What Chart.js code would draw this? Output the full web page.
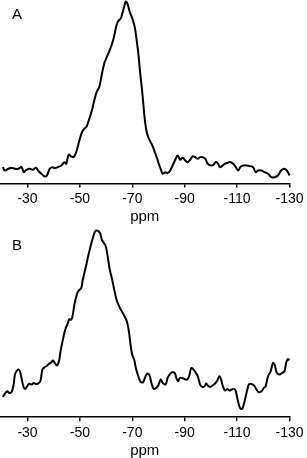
<!DOCTYPE html>
<html>
<head>
<meta charset="utf-8">
<script src="https://cdn.jsdelivr.net/npm/chart.js@4"></script>
<style>
  html, body { margin: 0; padding: 0; background: #fff; }
  .panel { position: relative; width: 307px; height: 229px; }
  .lbl { position: absolute; left: 12px; font-family: "Liberation Sans", Arial, sans-serif; font-size: 15px; color: #000; line-height: 1; }
</style>
</head>
<body>
<div class="panel"><canvas id="cA"></canvas><div class="lbl" style="top:6px">A</div></div>
<div class="panel"><canvas id="cB"></canvas><div class="lbl" style="top:8px">B</div></div>
<script>
const tickValues = [-30, -50, -70, -90, -110, -130];
const axisTitle = "ppm";
const panelLabels = ["A", "B"];

const ppmA = [-20.5,-21.4,-22.7,-23.9,-25.2,-26.5,-27.7,-28.6,-29.6,-30.9,-32.1,-33.2,-34.0,-35.3,-36.6,-37.4,-38.5,-39.5,-40.4,-41.6,-42.9,-44.1,-44.8,-45.7,-46.7,-47.6,-48.6,-49.8,-50.8,-51.7,-52.6,-53.6,-54.6,-55.5,-56.4,-57.4,-58.3,-59.3,-60.3,-61.4,-62.5,-63.3,-64.0,-64.7,-65.6,-66.2,-66.9,-67.5,-68.1,-69.0,-70.0,-70.9,-71.5,-72.3,-72.9,-73.6,-74.2,-74.8,-75.5,-76.1,-77.0,-77.9,-78.6,-79.5,-80.1,-80.8,-81.6,-82.7,-83.5,-84.5,-85.4,-86.4,-87.3,-88.3,-89.2,-90.2,-91.1,-92.1,-93.0,-94.0,-94.9,-95.9,-96.8,-97.8,-98.8,-100.0,-101.0,-101.8,-102.6,-103.5,-104.5,-105.4,-106.4,-107.5,-108.5,-109.5,-110.4,-111.4,-112.6,-113.6,-114.9,-116.1,-117.1,-118.0,-119.3,-120.5,-121.8,-123.1,-124.3,-125.6,-126.8,-127.9,-128.7,-129.4,-130.0];
const intA = [16.3,13.0,14.7,15.7,14.7,14.7,16.3,11.3,13.7,14.7,13.7,15.7,13.0,9.7,7.0,8.0,14.7,16.3,15.3,16.3,18.0,21.3,19.7,28.7,27.0,26.3,31.3,43.0,51.3,54.7,57.0,64.7,73.0,83.0,91.3,96.3,108.0,119.7,126.3,133.0,141.3,149.7,158.0,162.3,164.7,169.7,176.3,181.3,179.7,171.3,164.7,156.3,146.3,129.7,113.0,96.3,79.7,63.0,51.3,46.3,41.3,36.3,31.3,24.7,19.7,14.7,9.7,11.3,10.3,13.0,18.0,23.7,28.0,23.7,25.7,23.0,21.3,23.7,27.0,26.3,24.7,26.3,26.3,24.7,19.7,18.0,18.7,21.3,20.3,16.3,18.0,19.7,20.7,21.3,19.7,16.3,13.0,17.0,18.0,18.0,17.3,16.3,11.3,13.0,13.0,11.3,9.7,6.3,6.3,8.0,13.0,14.7,13.7,11.3,8.0];

const ppmB = [-20.5,-21.4,-22.3,-23.1,-23.9,-24.6,-25.2,-25.8,-26.5,-27.1,-27.7,-28.4,-29.0,-29.9,-30.6,-31.5,-32.4,-33.2,-34.0,-34.9,-35.7,-36.6,-37.2,-38.1,-39.1,-39.7,-40.4,-41.2,-42.0,-42.6,-43.5,-44.4,-45.4,-46.0,-46.7,-47.3,-47.9,-48.8,-49.6,-50.5,-51.1,-52.0,-53.0,-53.9,-54.9,-55.8,-56.8,-57.7,-58.4,-59.3,-59.9,-60.6,-61.4,-62.2,-63.1,-64.0,-65.0,-66.0,-66.9,-67.7,-68.5,-69.1,-69.8,-70.7,-71.5,-72.3,-73.2,-74.1,-74.8,-75.7,-76.6,-77.3,-78.2,-79.1,-79.9,-80.8,-81.6,-82.7,-83.5,-84.5,-85.4,-86.2,-86.8,-87.5,-88.1,-89.0,-89.9,-90.9,-91.7,-92.5,-93.4,-94.3,-95.0,-95.9,-96.8,-97.6,-98.2,-98.8,-99.7,-100.6,-101.6,-102.5,-103.2,-103.9,-104.5,-105.4,-106.3,-107.0,-107.9,-108.9,-109.5,-110.2,-111.1,-111.9,-112.7,-113.6,-114.5,-115.5,-116.5,-117.4,-118.3,-119.3,-120.2,-120.9,-121.8,-122.8,-123.7,-124.3,-125.2,-126.2,-127.2,-128.1,-128.7,-129.4,-130.0];
const intB = [20.3,23.7,26.0,24.3,25.3,31.0,42.7,46.0,47.7,46.0,39.3,31.0,28.3,31.0,33.7,32.7,34.3,33.3,33.7,36.0,47.7,50.3,51.0,53.3,55.0,56.7,54.3,51.7,56.0,66.0,77.7,87.7,94.3,98.3,97.7,102.7,112.7,122.7,127.0,129.3,137.7,147.7,159.3,169.3,179.3,186.0,186.7,184.3,177.7,173.7,171.0,161.0,147.7,139.3,127.7,117.7,111.0,106.0,101.7,97.7,89.3,77.7,64.3,57.7,47.7,41.0,35.3,35.0,39.3,43.7,41.7,34.3,28.3,29.3,31.7,37.7,34.3,32.7,39.3,43.7,45.0,44.3,39.3,36.0,39.3,39.3,38.3,37.7,41.0,49.3,47.7,44.3,41.0,32.7,30.3,31.0,33.7,31.7,30.3,31.7,33.7,37.0,41.0,37.7,31.7,26.7,28.3,26.7,27.7,28.3,26.0,17.7,9.3,8.3,14.3,24.3,32.7,33.3,31.7,27.7,25.0,26.0,29.3,31.0,41.0,46.0,54.3,52.7,44.3,42.7,44.3,46.0,54.3,58.3,57.0];

function makeChart(id, xs, ys, yMax, padBottom) {
  const pts = xs.map((x, i) => ({ x: x, y: ys[i] }));
  return new Chart(document.getElementById(id), {
    type: 'line',
    data: { datasets: [{ data: pts, borderColor: '#000', borderWidth: 2, pointRadius: 0, tension: 0.35, fill: false, clip: false }] },
    options: {
      responsive: true, maintainAspectRatio: false, animation: false,
      layout: { padding: { left: 0, right: 15.3, top: 0, bottom: padBottom } },
      plugins: { legend: { display: false }, tooltip: { enabled: false } },
      scales: {
        x: {
          type: 'linear', reverse: true, min: -130, max: -19.5,
          afterBuildTicks: (s) => { s.ticks = tickValues.map(v => ({ value: v })); },
          grid: { display: true, drawOnChartArea: false, drawTicks: true, tickLength: 4, color: '#000', lineWidth: 1.5 },
          border: { display: true, color: '#000', width: 1.5 },
          ticks: { color: '#000', padding: 3.5, maxRotation: 0, autoSkip: false, font: { family: 'Liberation Sans', size: 14 }, callback: (v) => String(v) },
          title: { display: true, text: axisTitle, color: '#000', font: { family: 'Liberation Sans', size: 15, lineHeight: 1 }, padding: { top: -2, bottom: 0 } }
        },
        y: { display: false, min: 0, max: yMax }
      }
    }
  });
}
makeChart('cA', ppmA, intA, 183, 4.7);
makeChart('cB', ppmB, intB, 188.5, 0);
</script>
</body>
</html>
